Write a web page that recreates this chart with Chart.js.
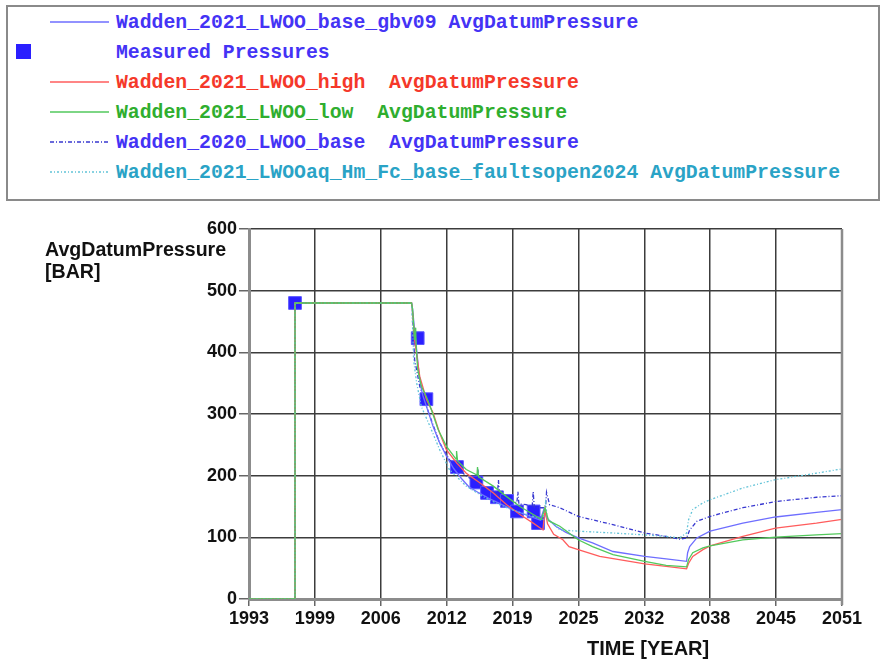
<!DOCTYPE html>
<html>
<head>
<meta charset="utf-8">
<script src="https://cdn.jsdelivr.net/npm/chart.js@4.4.1/dist/chart.umd.min.js"></script>
<style>
	body { margin: 0; background: #fff; }
	#lienzo { position: absolute; left: 0; top: 0; width: 882px; height: 659px; }
	#cajaLeyenda {
		position: absolute; left: 6px; top: 5px; width: 870px; height: 192px;
		border: 2px solid #8a8a8a; background: #fff;
		font-family: "Liberation Mono", "Courier New", monospace; font-weight: bold; font-size: 19.8px;
	}
	.fila { position: absolute; left: 0; height: 30px; width: 860px; }
	.fila svg { position: absolute; left: 41px; top: 0; }
	.fila span { position: absolute; left: 108px; top: 3px; white-space: pre; line-height: 24px; }
	.marca { position: absolute; left: 8px; top: 6px; width: 15px; height: 15px; background: #2a1fff; }
	.tituloY {
		position: absolute; left: 45px; top: 238px; font: bold 19.6px "Liberation Sans", Arial, sans-serif;
		line-height: 22px; color: #111;
	}
	.tituloX {
		position: absolute; left: 587px; top: 637px; font: bold 20px "Liberation Sans", Arial, sans-serif;
		color: #111; white-space: pre;
	}
</style>
</head>
<body>
<canvas id="lienzo" width="882" height="659"></canvas>
<div id="cajaLeyenda"></div>
<div class="tituloY">AvgDatumPressure<br>[BAR]</div>
<div class="tituloX">TIME [YEAR]</div>
<script>
// Eje de tiempo y de presión
const xMin = 1993, xMax = 2051;
const xTickLabels = ['1993', '1999', '2006', '2012', '2019', '2025', '2032', '2038', '2045', '2051'];
const yTickValues = [0, 100, 200, 300, 400, 500, 600];

// Historia común antes de producción: [año, bar]
const historiaInicial = [[1993, 0], [1997.5, 0], [1997.5, 480], [2008.9, 480]];

// Wadden_2021_LWOO_base_gbv09
const baseGbv09 = [
	[2009.0, 470], [2009.2, 435], [2009.3, 420], [2009.45, 395], [2009.6, 370], [2009.8, 345], [2010.0, 330],
	[2010.5, 305], [2011.0, 280], [2011.6, 255], [2012.3, 232], [2013.0, 212], [2013.8, 195], [2014.5, 182],
	[2015.5, 172], [2016.5, 163], [2017.5, 155], [2018.5, 147], [2019.5, 140], [2020.5, 134], [2021.5, 128],
	[2021.85, 146], [2022.1, 132], [2023.0, 118], [2024.0, 108], [2025.2, 99], [2026.6, 91], [2028.6, 77],
	[2031.7, 69], [2033.8, 65], [2035.8, 61], [2035.9, 75], [2036.1, 85], [2036.8, 99], [2038.1, 110],
	[2041.3, 123], [2044.5, 133], [2048.5, 140.5], [2051, 145]
];

// Wadden_2021_LWOO_high
const casoAlto = [
	[2009.0, 465], [2009.2, 420], [2009.7, 361], [2010.35, 324], [2011.0, 302], [2011.65, 269], [2012.3, 242],
	[2013.3, 221], [2014.25, 204], [2015.6, 188], [2016.9, 172], [2018.2, 153], [2019.5, 137], [2020.8, 123],
	[2021.75, 112], [2021.95, 145], [2022.2, 122], [2022.8, 105], [2023.7, 96], [2024.3, 85], [2025.2, 80],
	[2027.3, 69], [2031.7, 57], [2033.8, 53], [2035.8, 49], [2036.0, 58], [2036.4, 69], [2037.4, 80],
	[2038.1, 86], [2041.3, 101.5], [2044.5, 115], [2048.5, 123], [2051, 129]
];

// Wadden_2021_LWOO_low
const casoBajo = [
	[2009.0, 470], [2009.2, 420], [2009.3, 440], [2009.35, 410], [2009.5, 372], [2009.86, 345], [2010.35, 328],
	[2010.84, 307], [2011.5, 275], [2012.3, 248], [2013.25, 227], [2013.3, 240], [2013.4, 224], [2014.25, 210],
	[2015.3, 201], [2015.35, 214], [2015.45, 198], [2016.9, 183], [2018.2, 166], [2019.5, 150], [2020.8, 137],
	[2021.6, 129], [2021.95, 148], [2022.3, 127], [2023.4, 118], [2025.2, 96], [2026.6, 85], [2028.6, 72],
	[2031.7, 61], [2033.8, 54.5], [2035.8, 52], [2036.0, 64], [2036.4, 75], [2037.4, 83], [2038.1, 86],
	[2041.3, 96], [2044.5, 100.5], [2048.5, 104], [2051, 106]
];

// Wadden_2020_LWOO_base
const base2020 = [
	[2009.0, 460], [2009.2, 388], [2009.7, 345], [2010.7, 296], [2011.65, 253], [2012.6, 226], [2014.25, 199],
	[2015.3, 190], [2015.4, 210], [2015.5, 186], [2016.5, 176], [2017.3, 170], [2017.4, 193], [2017.5, 167],
	[2018.2, 161], [2019.2, 156], [2019.3, 174], [2019.4, 154], [2020.1, 153], [2020.7, 150], [2020.8, 174],
	[2020.9, 149], [2021.4, 148], [2022.0, 148], [2022.1, 173], [2022.4, 153], [2023.4, 148], [2025.2, 134],
	[2028.6, 120.5], [2031.7, 107], [2033.8, 101.5], [2035.1, 97], [2035.8, 99], [2036.1, 112], [2036.8, 126],
	[2038.1, 134], [2041.3, 148], [2044.5, 158], [2048.5, 165], [2051, 167.5]
];

// Wadden_2021_LWOOaq_Hm_Fc_base_faultsopen2024
const fallasAbiertas = [
	[2009.0, 440], [2009.1, 388], [2009.4, 350], [2009.86, 312], [2010.7, 280], [2011.65, 242], [2012.6, 210],
	[2014.25, 183], [2015.9, 166], [2017.5, 153], [2019.15, 142], [2020.8, 134], [2021.75, 129], [2022.0, 156],
	[2022.2, 128], [2022.7, 123], [2023.4, 112], [2025.2, 110], [2028.6, 107], [2031.7, 104], [2033.8, 101.5],
	[2035.1, 99], [2035.8, 107], [2036.0, 129], [2036.4, 145], [2037.4, 156], [2038.1, 161], [2041.3, 180],
	[2044.5, 193.5], [2048.5, 204], [2051, 211]
];

// Presiones medidas
const medidasAnio = [1997.5, 2009.5, 2010.35, 2013.34, 2015.24, 2016.28, 2017.25, 2018.23, 2019.21, 2020.84, 2021.27];
const medidasBar = [480, 423, 324, 214, 189, 172, 165, 159, 142, 142, 123];

// Leyenda: nombre, color de texto, color de línea, patrón; "orden" menor queda encima
const series = [
	{ nombre: 'Wadden_2021_LWOO_base_gbv09 AvgDatumPressure', texto: '#4433f5', linea: '#6e6eff', guion: [], datos: baseGbv09, orden: 3 },
	{ nombre: 'Measured Pressures', texto: '#4433f5', linea: null, guion: [], datos: null, orden: 9 },
	{ nombre: 'Wadden_2021_LWOO_high  AvgDatumPressure', texto: '#f5382a', linea: '#ff5c5c', guion: [], datos: casoAlto, orden: 2 },
	{ nombre: 'Wadden_2021_LWOO_low  AvgDatumPressure', texto: '#2fae2f', linea: '#52c95c', guion: [], datos: casoBajo, orden: 0 },
	{ nombre: 'Wadden_2020_LWOO_base  AvgDatumPressure', texto: '#4433f5', linea: '#3838d0', guion: [4, 2, 1, 2], datos: base2020, orden: 4 },
	{ nombre: 'Wadden_2021_LWOOaq_Hm_Fc_base_faultsopen2024 AvgDatumPressure', texto: '#2aa3c6', linea: '#62c3d8', guion: [2, 2, 1, 2], datos: fallasAbiertas, orden: 1 }
];

document.addEventListener('DOMContentLoaded', function () {
	crearLeyenda();
	crearGrafica();
});

function crearLeyenda() {
	const caja = document.getElementById('cajaLeyenda');
	series.forEach(function (s, i) {
		const fila = document.createElement('div');
		fila.className = 'fila';
		fila.style.top = (1 + 30 * i) + 'px';
		if (s.linea) {
			fila.innerHTML = '<svg width="62" height="30"><line x1="1" y1="14" x2="60" y2="14" stroke="' + s.linea +
				'" stroke-width="1.3" stroke-dasharray="' + (s.guion.length ? s.guion.join(' ') : 'none') + '"/></svg>';
		} else {
			fila.innerHTML = '<div class="marca"></div>';
		}
		const texto = document.createElement('span');
		texto.textContent = s.nombre;
		texto.style.color = s.texto;
		fila.appendChild(texto);
		caja.appendChild(fila);
	});
}

// Marco gris a la derecha del área de trazado
const marcoDerecho = {
	id: 'marcoDerecho',
	afterDraw: function (chart) {
		const a = chart.chartArea;
		const ctx = chart.ctx;
		ctx.save();
		ctx.strokeStyle = '#8c8c8c';
		ctx.lineWidth = 2.5;
		ctx.beginPath();
		ctx.moveTo(a.right, a.top);
		ctx.lineTo(a.right, a.bottom + 6);
		ctx.stroke();
		ctx.restore();
	}
};

function crearGrafica() {
	const ctx = document.getElementById('lienzo').getContext('2d');
	const fuenteEjes = { family: '"Liberation Sans", Arial, sans-serif', size: 18, weight: 'bold' };

	const datasets = series.filter(s => s.datos).map(function (s) {
		return {
			label: s.nombre,
			data: historiaInicial.concat(s.datos).map(p => ({ x: p[0], y: p[1] })),
			borderColor: s.linea,
			borderWidth: 1.3,
			borderDash: s.guion,
			pointRadius: 0,
			fill: false,
			tension: 0,
			order: s.orden
		};
	});

	datasets.push({
		type: 'scatter',
		label: 'Measured Pressures',
		data: medidasAnio.map((a, i) => ({ x: a, y: medidasBar[i] })),
		pointStyle: 'rect',
		pointRadius: 9,
		backgroundColor: '#2a1fff',
		borderColor: '#5a55ff',
		borderWidth: 1,
		order: 9
	});

	new Chart(ctx, {
		type: 'line',
		data: { datasets: datasets },
		options: {
			responsive: false,
			animation: false,
			devicePixelRatio: 1,
			layout: { padding: { top: 229, right: 40, left: 0, bottom: 0 } },
			plugins: { legend: { display: false }, tooltip: { enabled: false } },
			scales: {
				x: {
					type: 'linear',
					min: xMin,
					max: xMax,
					afterBuildTicks: function (scale) {
						const paso = (xMax - xMin) / (xTickLabels.length - 1);
						scale.ticks = xTickLabels.map((t, i) => ({ value: xMin + i * paso }));
					},
					afterFit: function (scale) { scale.height = 60; },
					ticks: {
						autoSkip: false,
						maxRotation: 0,
						padding: 2,
						color: '#111',
						font: fuenteEjes,
						callback: function (valor, indice) { return xTickLabels[indice]; }
					},
					grid: { color: '#3c3c3c', lineWidth: 1.5, tickLength: 7, tickColor: '#666' },
					border: { color: '#8c8c8c', width: 3 }
				},
				y: {
					min: 0,
					max: 600,
					afterBuildTicks: function (scale) {
						scale.ticks = yTickValues.map(v => ({ value: v }));
					},
					afterFit: function (scale) { scale.width = 249; },
					ticks: { padding: 2, color: '#111', font: fuenteEjes },
					grid: { color: '#3c3c3c', lineWidth: 1.5, tickLength: 10, tickColor: '#666' },
					border: { color: '#8c8c8c', width: 3 }
				}
			}
		},
		plugins: [marcoDerecho]
	});
}
</script>
</body>
</html>
